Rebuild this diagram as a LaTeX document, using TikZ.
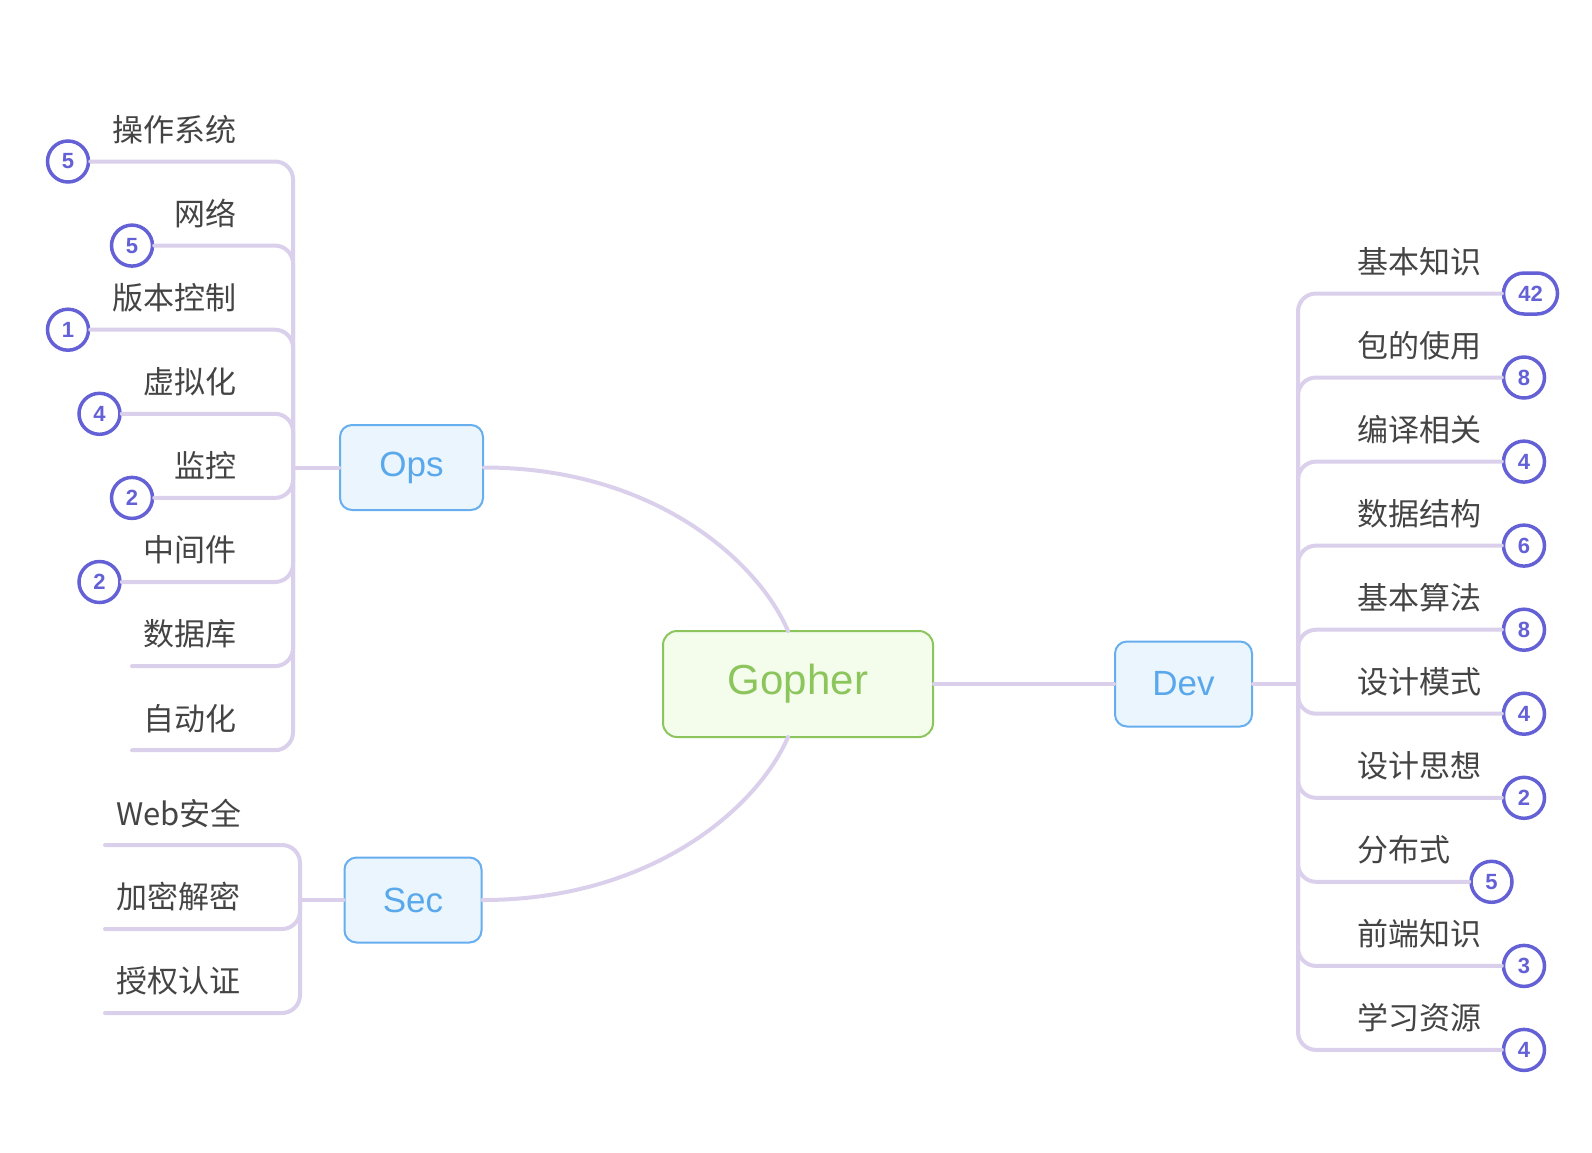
\documentclass[tikz,border=0pt]{standalone}
\usepackage{fontspec}
\setmainfont{Liberation Sans}
\newfontfamily\cjk{Noto Sans CJK SC}
\definecolor{lav}{HTML}{DAD0EC}
\definecolor{bluebd}{HTML}{66AEEE}
\definecolor{bluebg}{HTML}{EAF5FE}
\definecolor{bluetx}{HTML}{5AA8EC}
\definecolor{greenbd}{HTML}{8CC55C}
\definecolor{greenbg}{HTML}{F4FCEC}
\definecolor{badgec}{HTML}{6461D6}
\definecolor{txt}{HTML}{444444}
\begin{document}
\begin{tikzpicture}[x=1pt,y=-1pt,
  conn/.style={draw=lav, line width=4pt, line cap=round},
  branch/.style={conn, rounded corners=18pt},
  topic/.style={draw=bluebd, fill=bluebg, line width=2pt, rounded corners=12pt,
    minimum width=137pt, minimum height=85pt, inner sep=0pt, text=bluetx,
    font=\fontsize{35}{35}\selectfont},
  central/.style={draw=greenbd, fill=greenbg, line width=2pt, rounded corners=14pt,
    minimum width=270pt, minimum height=106pt, inner sep=0pt, text=greenbd,
    font=\fontsize{42}{42}\selectfont},
  lbl/.style={font=\cjk\fontsize{31}{31}\selectfont, text=txt, inner sep=0pt},
  badge/.style={draw=badgec, fill=white, line width=3.5pt, rounded corners=20.5pt,
    minimum height=41pt, minimum width=41pt, inner sep=0pt, text=badgec,
    font=\bfseries\fontsize{22}{22}\selectfont}]
\useasboundingbox (0,0) rectangle (1592,1152);

% main topics
\node[central] (gopher) at (798,684) {Gopher};
\node[topic, minimum width=143pt] (ops) at (411.5,467.5) {Ops};
\node[topic] (sec) at (413,900) {Sec};
\node[topic] (dev) at (1183.5,684) {Dev};

\coordinate (gtop) at (788,631);
\coordinate (gbot) at (788,737);
\coordinate (opsT) at (293,467.5);
\coordinate (secT) at (300,900);
\coordinate (devT) at (1298,684);

\draw[conn] (ops.east) .. controls +(170,0) and +(-30,-70) .. (gtop);
\draw[conn] (sec.east) .. controls +(170,0) and +(-30,70) .. (gbot);
\draw[conn] (gopher.east) -- (dev.west);
\draw[conn] (opsT) -- (ops.west);
\draw[conn] (secT) -- (sec.west);
\draw[conn] (dev.east) -- (devT);

% ---------- Ops children ----------
\node[lbl, anchor=east] (o1) at (237,129.5) {操作系统};
\node[lbl, anchor=east] (o2) at (237,213.6) {网络};
\node[lbl, anchor=east] (o3) at (237,297.7) {版本控制};
\node[lbl, anchor=east] (o4) at (237,381.8) {虚拟化};
\node[lbl, anchor=east] (o5) at (237,465.9) {监控};
\node[lbl, anchor=east] (o6) at (237,550) {中间件};
\node[lbl, anchor=east] (o7) at (237,634.1) {数据库};
\node[lbl, anchor=east] (o8) at (237,718.2) {自动化};

\node[badge] (ob1) at (68,161.5) {5};
\node[badge] (ob2) at (132,245.6) {5};
\node[badge] (ob3) at (68,329.7) {1};
\node[badge] (ob4) at (99.5,413.8) {4};
\node[badge] (ob5) at (132,497.9) {2};
\node[badge] (ob6) at (99.5,582) {2};
\coordinate (oe7) at (132,666.1);
\coordinate (oe8) at (132,750.2);

\draw[branch] (opsT) -- (293,161.5) -- (ob1.east);
\draw[branch] (opsT) -- (293,245.6) -- (ob2.east);
\draw[branch] (opsT) -- (293,329.7) -- (ob3.east);
\draw[branch] (opsT) -- (293,413.8) -- (ob4.east);
\draw[branch] (opsT) -- (293,497.9) -- (ob5.east);
\draw[branch] (opsT) -- (293,582) -- (ob6.east);
\draw[branch] (opsT) -- (293,666.1) -- (oe7);
\draw[branch] (opsT) -- (293,750.2) -- (oe8);

% ---------- Sec children ----------
\node[lbl, anchor=west] (s1) at (116,813) {Web安全};
\node[lbl, anchor=west] (s2) at (116,897) {加密解密};
\node[lbl, anchor=west] (s3) at (116,981) {授权认证};
\coordinate (se1) at (105,845);
\coordinate (se2) at (105,929);
\coordinate (se3) at (105,1013);
\draw[branch] (secT) -- (300,845) -- (se1);
\draw[branch] (secT) -- (300,929) -- (se2);
\draw[branch] (secT) -- (300,1013) -- (se3);

% ---------- Dev children ----------
\node[lbl, anchor=west] (d1) at (1357,261.5) {基本知识};
\node[lbl, anchor=west] (d2) at (1357,345.5) {包的使用};
\node[lbl, anchor=west] (d3) at (1357,429.6) {编译相关};
\node[lbl, anchor=west] (d4) at (1357,513.6) {数据结构};
\node[lbl, anchor=west] (d5) at (1357,597.7) {基本算法};
\node[lbl, anchor=west] (d6) at (1357,681.7) {设计模式};
\node[lbl, anchor=west] (d7) at (1357,765.8) {设计思想};
\node[lbl, anchor=west] (d8) at (1357,849.8) {分布式};
\node[lbl, anchor=west] (d9) at (1357,933.9) {前端知识};
\node[lbl, anchor=west] (d10) at (1357,1017.9) {学习资源};

\node[badge, minimum width=54pt] (db1) at (1530.5,293.5) {42};
\node[badge] (db2) at (1524,377.5) {8};
\node[badge] (db3) at (1524,461.6) {4};
\node[badge] (db4) at (1524,545.6) {6};
\node[badge] (db5) at (1524,629.7) {8};
\node[badge] (db6) at (1524,713.7) {4};
\node[badge] (db7) at (1524,797.8) {2};
\node[badge] (db8) at (1491.5,881.8) {5};
\node[badge] (db9) at (1524,965.9) {3};
\node[badge] (db10) at (1524,1049.9) {4};

\draw[branch] (devT) -- (1298,293.5) -- (db1.west);
\draw[branch] (devT) -- (1298,377.5) -- (db2.west);
\draw[branch] (devT) -- (1298,461.6) -- (db3.west);
\draw[branch] (devT) -- (1298,545.6) -- (db4.west);
\draw[branch] (devT) -- (1298,629.7) -- (db5.west);
\draw[branch] (devT) -- (1298,713.7) -- (db6.west);
\draw[branch] (devT) -- (1298,797.8) -- (db7.west);
\draw[branch] (devT) -- (1298,881.8) -- (db8.west);
\draw[branch] (devT) -- (1298,965.9) -- (db9.west);
\draw[branch] (devT) -- (1298,1049.9) -- (db10.west);
\end{tikzpicture}
\end{document}
